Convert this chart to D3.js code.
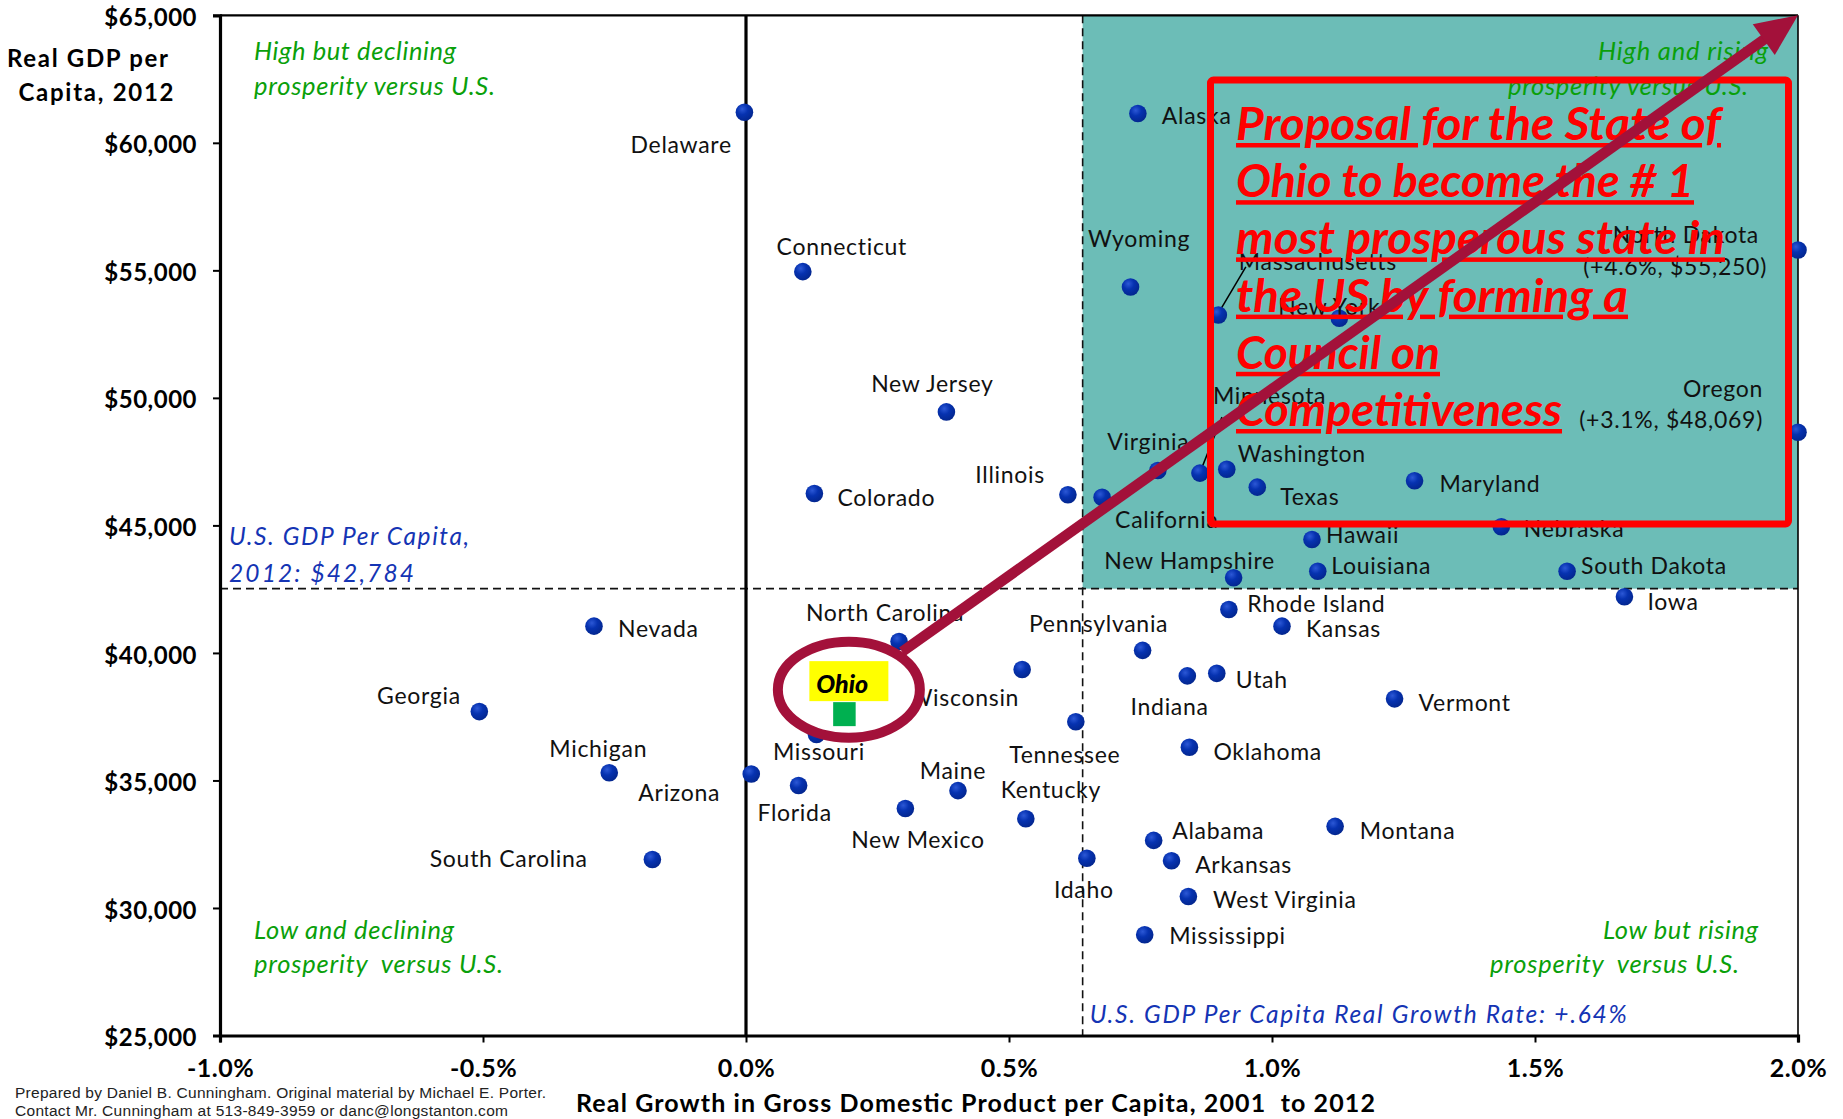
<!DOCTYPE html>
<html>
<head>
<meta charset="utf-8">
<script src="https://cdn.jsdelivr.net/npm/d3@7"></script>
<style>
  html, body { margin: 0; padding: 0; background: #fff; }
  svg { display: block; }
</style>
</head>
<body>
<script>
// ---------------- DATA ----------------
const states = ["Delaware","Alaska","Connecticut","Wyoming","Massachusetts","New York","North Dakota","New Jersey","Oregon","Colorado","Illinois","California","Virginia","Minnesota","Washington","Texas","Maryland","Nebraska","Hawaii","Louisiana","New Hampshire","South Dakota","Iowa","Rhode Island","Kansas","Nevada","North Carolina","Pennsylvania","Wisconsin","Utah","Indiana","Vermont","Georgia","Missouri","Tennessee","Oklahoma","Michigan","Arizona","Florida","Maine","New Mexico","Kentucky","Montana","Alabama","Idaho","South Carolina","Arkansas","West Virginia","Mississippi"];
// Real growth in GDP per capita 2001-2012 (%) (ND and OR clipped at the 2.0% edge)
const growth = [-0.003,0.745,0.108,0.731,0.898,1.128,2.0,0.381,2.0,0.130,0.612,0.677,0.783,0.863,0.914,0.972,1.271,1.436,1.076,1.087,0.927,1.561,1.670,0.918,1.019,-0.289,0.291,0.754,0.525,0.895,0.839,1.233,-0.507,0.134,0.627,0.843,-0.260,0.010,0.100,0.403,0.303,0.532,1.120,0.775,0.648,-0.178,0.809,0.841,0.758];
// Real GDP per capita 2012 ($)
const gdp = [61200,61150,54950,54350,53250,53120,55800,49450,48650,46250,46200,46100,47150,47050,47200,46500,46750,44950,44450,43200,42950,43200,42200,41700,41050,41050,40450,40100,39350,39200,39100,38200,37700,36800,37300,36300,35300,35250,34800,34600,33900,33500,33200,32650,31950,31900,31850,30450,28950];
const ohio = { name: "Ohio", growth: 0.187, gdp: 37600 };
const usGrowth = 0.64;          // vertical reference (%)
const usGdpLine = 42520;        // horizontal reference line as drawn
const xTicks = [-1.0, -0.5, 0.0, 0.5, 1.0, 1.5, 2.0];
const xTickLabels = ["-1.0%","-0.5%","0.0%","0.5%","1.0%","1.5%","2.0%"];
const yTicks = [25000,30000,35000,40000,45000,50000,55000,60000,65000];
const yTickLabels = ["$25,000","$30,000","$35,000","$40,000","$45,000","$50,000","$55,000","$60,000","$65,000"];
const extraLabels = { "North Dakota": "(+4.6%, $55,250)", "Oregon": "(+3.1%, $48,069)" };
const proposalLines = ["Proposal for the State of","Ohio to become the # 1","most prosperous state in","the US by forming a","Council on","Competitiveness"];

// ---------------- LAYOUT (label placement relative to dot, text widths) ----------------
const labelLayout = {
  "Delaware":[-12.6,41,"end"], "Alaska":[24,11,"start"], "Connecticut":[39,-17,"middle"],
  "Wyoming":[8.5,-40,"middle"], "Massachusetts":[20.5,-45,"start"], "New York":[-10,-3,"middle"],
  "North Dakota":[-39,-7,"end"], "New Jersey":[-14,-20,"middle"], "Oregon":[-35,-35,"end"],
  "Colorado":[23,12,"start"], "Illinois":[-23,-12,"end"], "California":[13,31,"start"],
  "Virginia":[-9.5,-21,"middle"], "Minnesota":[13,-69,"start"], "Washington":[11,-7,"start"],
  "Texas":[23,18,"start"], "Maryland":[25,11,"start"], "Nebraska":[22.5,10,"start"],
  "Hawaii":[14,4,"start"], "Louisiana":[13.5,3,"start"], "New Hampshire":[-44,-9,"middle"],
  "South Dakota":[14,3,"start"], "Iowa":[23,13,"start"], "Rhode Island":[18.5,2.5,"start"],
  "Kansas":[24,11,"start"], "Nevada":[24,11,"start"], "North Carolina":[-14,-20,"middle"],
  "Pennsylvania":[-44,-18,"middle"], "Wisconsin":[-3,36,"end"], "Utah":[19,15,"start"],
  "Indiana":[-17.7,39,"middle"], "Vermont":[24,12,"start"], "Georgia":[-18.5,-8,"end"],
  "Missouri":[2.4,25,"middle"], "Tennessee":[-11,41,"middle"], "Oklahoma":[24,13,"start"],
  "Michigan":[-11,-16,"middle"], "Arizona":[-72,27.4,"middle"], "Florida":[-4,35,"middle"],
  "Maine":[-5,-12,"middle"], "New Mexico":[12.5,39,"middle"], "Kentucky":[25,-21,"middle"],
  "Montana":[24.6,12.3,"start"], "Alabama":[18.6,-1.7,"start"], "Idaho":[-3,40,"middle"],
  "South Carolina":[-64.6,7.7,"end"], "Arkansas":[23.6,12.6,"start"], "West Virginia":[24.7,11.6,"start"],
  "Mississippi":[24.5,9.7,"start"]
};
const extraLayout = { "North Dakota":[-31,25,"end"], "Oregon":[-35,-4,"end"] };
const leaders = { "Massachusetts":[27.5,-48,2,-5], "Minnesota":[22,-56,1,-3] };
const proposalWidths = [485, 458, 489, 392, 204, 326];

// ---------------- CHART ----------------
const W = 1843, H = 1119;
const svg = d3.select("body").append("svg").attr("width", W).attr("height", H)
  .style("font-family", "Lato, 'Open Sans', sans-serif");

const x = d3.scaleLinear().domain([-1, 2]).range([220, 1798]);
const y = d3.scaleLinear().domain([25000, 65000]).range([1035.5, 15.3]);

const defs = svg.append("defs");
const grad = defs.append("radialGradient").attr("id","dotg").attr("cx","38%").attr("cy","32%").attr("r","70%");
grad.append("stop").attr("offset","0%").attr("stop-color","#2c58d6");
grad.append("stop").attr("offset","45%").attr("stop-color","#0632b0");
grad.append("stop").attr("offset","100%").attr("stop-color","#03268e");

const data = states.map((s,i) => ({name:s, growth:growth[i], gdp:gdp[i]}));

// teal quadrant
svg.append("rect")
  .attr("x", x(usGrowth)).attr("y", y(65000))
  .attr("width", x(2) - x(usGrowth)).attr("height", y(usGdpLine) - y(65000))
  .attr("fill", "#6cbdb7");

// dashed reference lines
svg.append("line").attr("x1", x(-1)).attr("x2", x(2)).attr("y1", y(usGdpLine)).attr("y2", y(usGdpLine))
  .attr("stroke","#111").attr("stroke-width",1.6).attr("stroke-dasharray","8,5");
svg.append("line").attr("x1", x(usGrowth)).attr("x2", x(usGrowth)).attr("y1", y(65000)).attr("y2", y(25000))
  .attr("stroke","#111").attr("stroke-width",1.6).attr("stroke-dasharray","8,5");

// frame
svg.append("line").attr("x1", x(-1)).attr("x2", x(2)).attr("y1", y(65000)).attr("y2", y(65000))
  .attr("stroke","#000").attr("stroke-width",2.2);
svg.append("line").attr("x1", x(2)).attr("x2", x(2)).attr("y1", y(65000)).attr("y2", y(25000))
  .attr("stroke","#000").attr("stroke-width",1.6);
// zero growth line
svg.append("line").attr("x1", x(0)).attr("x2", x(0)).attr("y1", y(65000)).attr("y2", y(25000))
  .attr("stroke","#000").attr("stroke-width",3.2);

// axes
const yAxis = d3.axisLeft(y).tickValues(yTicks).tickFormat((d,i)=>yTickLabels[i]).tickSize(7).tickPadding(16);
const gy = svg.append("g").attr("transform", `translate(${x(-1)},0)`).call(yAxis);
gy.select(".domain").attr("stroke","#000").attr("stroke-width",3.2);
gy.selectAll(".tick line").attr("stroke","#000").attr("stroke-width",2);
gy.selectAll(".tick text").attr("font-size",24).attr("font-weight",700).attr("fill","#000")
  .attr("font-family","Lato, sans-serif").attr("dy","0.42em").attr("letter-spacing",0.5);

const xAxis = d3.axisBottom(x).tickValues(xTicks).tickFormat((d,i)=>xTickLabels[i]).tickSize(7).tickPadding(17);
const gx = svg.append("g").attr("transform", `translate(0,${y(25000)})`).call(xAxis);
gx.select(".domain").attr("stroke","#000").attr("stroke-width",3.2);
gx.selectAll(".tick line").attr("stroke","#000").attr("stroke-width",2);
gx.selectAll(".tick text").attr("font-size",25).attr("font-weight",700).attr("fill","#000")
  .attr("font-family","Lato, sans-serif").attr("letter-spacing",0.5);

// helper for fitted text lines
function fitted(parent, str, xx, yy, anchor, width) {
  return parent.append("text").attr("x", xx).attr("y", yy).attr("text-anchor", anchor)
    .attr("textLength", width).attr("lengthAdjust", "spacing").text(str);
}

// axis titles
const yt = svg.append("g").attr("font-size",24).attr("font-weight",700).attr("fill","#000");
fitted(yt, "Real GDP per", 7, 67, "start", 161);
fitted(yt, "Capita, 2012", 18.5, 101, "start", 155);
const xtg = svg.append("g").attr("font-size",25).attr("font-weight",700).attr("fill","#000");
fitted(xtg, "Real Growth in Gross Domestic Product per Capita, 2001\u00a0 to 2012", 576, 1112, "start", 799);

// quadrant notes
const green = "#0aa00a";
const blue = "#1434b4";
function note(lines, xs, ys, anchor, color, size, widths) {
  const g = svg.append("g").attr("font-style","italic").attr("font-size",size).attr("fill",color);
  lines.forEach((l,i)=> {
    const startX = anchor === "end" ? xs[i] - widths[i] : xs[i];
    fitted(g, l, startX, ys[i], "start", widths[i]);
  });
}
note(["High but declining","prosperity versus U.S."],[254,254],[60,95],"start",green,25.5,[202,241]);
note(["High and rising","prosperity versus U.S."],[1768,1748],[60,95],"end",green,25.5,[170,240]);
note(["Low and declining","prosperity\u00a0 versus U.S."],[254,254],[939,973],"start",green,25.5,[200,249]);
note(["Low but rising","prosperity\u00a0 versus U.S."],[1758,1739],[939,973],"end",green,25.5,[155,249]);
note(["U.S. GDP Per Capita,","2012: $42,784"],[229,229],[545,582],"start",blue,24.5,[240,185]);
note(["U.S. GDP Per Capita Real Growth Rate: +.64%"],[x(usGrowth)+7],[1023],"start",blue,24.5,[537]);

// leader lines
Object.entries(leaders).forEach(([name, L]) => {
  const d = data.find(e=>e.name===name);
  svg.append("line").attr("x1", x(d.growth)+L[0]).attr("y1", y(d.gdp)+L[1])
    .attr("x2", x(d.growth)+L[2]).attr("y2", y(d.gdp)+L[3]).attr("stroke","#000").attr("stroke-width",1.5);
});

// dots
svg.append("g").selectAll("circle").data(data).join("circle")
  .attr("cx", d=>x(d.growth)).attr("cy", d=>y(d.gdp)).attr("r", 8.8).attr("fill","url(#dotg)");

// labels
const lg = svg.append("g").attr("font-size",23).attr("fill","#111").attr("letter-spacing",0.7);
lg.selectAll("text.lab").data(data).join("text").attr("class","lab")
  .attr("x", d=>x(d.growth)+labelLayout[d.name][0])
  .attr("y", d=>y(d.gdp)+labelLayout[d.name][1])
  .attr("text-anchor", d=>labelLayout[d.name][2])
  .text(d=>d.name);
lg.selectAll("text.extra").data(data.filter(d=>extraLabels[d.name])).join("text").attr("class","extra")
  .attr("x", d=>x(d.growth)+extraLayout[d.name][0])
  .attr("y", d=>y(d.gdp)+extraLayout[d.name][1])
  .attr("text-anchor", d=>extraLayout[d.name][2])
  .text(d=>extraLabels[d.name]);

// red proposal box
svg.append("rect").attr("x",1210.5).attr("y",80).attr("width",578).attr("height",444).attr("rx",3)
  .attr("fill","none").attr("stroke","#ff0000").attr("stroke-width",7);
const pg = svg.append("g").attr("font-size",45).attr("font-weight",700).attr("font-style","italic")
  .attr("fill","#ff0000").style("text-decoration","underline");
proposalLines.forEach((l,i)=> {
  pg.append("text").attr("x",1236).attr("y",140 + i*57.2)
    .attr("textLength", proposalWidths[i]).attr("lengthAdjust","spacingAndGlyphs").text(l);
});

// Ohio highlight
const ox = x(ohio.growth), oy = y(ohio.gdp);
const ecx = ox + 4.5, ecy = oy - 24.5, erx = 71, ery = 48;
const crimson = "#a3113a";
svg.append("ellipse").attr("cx",ecx).attr("cy",ecy).attr("rx",erx).attr("ry",ery)
  .attr("fill","#fff").attr("stroke",crimson).attr("stroke-width",10);
svg.append("rect").attr("x",ox-35).attr("y",oy-53).attr("width",79).attr("height",40).attr("fill","#ffff00");
svg.append("text").attr("x",ox-28).attr("y",oy-21.5).attr("font-size",25).attr("font-weight",900)
  .attr("font-style","italic").attr("fill","#000").text(ohio.name);
svg.append("rect").attr("x",ox-11.2).attr("y",oy-12).attr("width",22.5).attr("height",24).attr("fill","#00b050");

// arrow from Ohio to top-right corner
const tx = x(2), ty = y(65000);
const dxA = tx - ecx, dyA = ty - ecy;
const tE = 1 / Math.sqrt((dxA/(erx+5))**2 + (dyA/(ery+5))**2);
const sx = ecx + dxA*tE, sy = ecy + dyA*tE;
const len = Math.hypot(tx-sx, ty-sy), ux = (tx-sx)/len, uy = (ty-sy)/len;
const headL = 42, headW = 19;
const bx = tx - ux*headL, by = ty - uy*headL;
svg.append("line").attr("x1",sx).attr("y1",sy).attr("x2",bx+ux*2).attr("y2",by+uy*2)
  .attr("stroke",crimson).attr("stroke-width",10.5);
svg.append("path").attr("d", `M${tx},${ty} L${bx - uy*headW},${by + ux*headW} L${bx + uy*headW},${by - ux*headW} Z`)
  .attr("fill",crimson);

// footnote
const fn = svg.append("g").attr("font-family","'Liberation Sans', Arial, sans-serif").attr("font-size",15.5).attr("fill","#222");
fitted(fn, "Prepared by Daniel B. Cunningham. Original material by Michael E. Porter.", 15, 1098, "start", 531);
fitted(fn, "Contact Mr. Cunningham at 513-849-3959 or danc@longstanton.com", 15, 1116, "start", 493);
</script>
</body>
</html>
